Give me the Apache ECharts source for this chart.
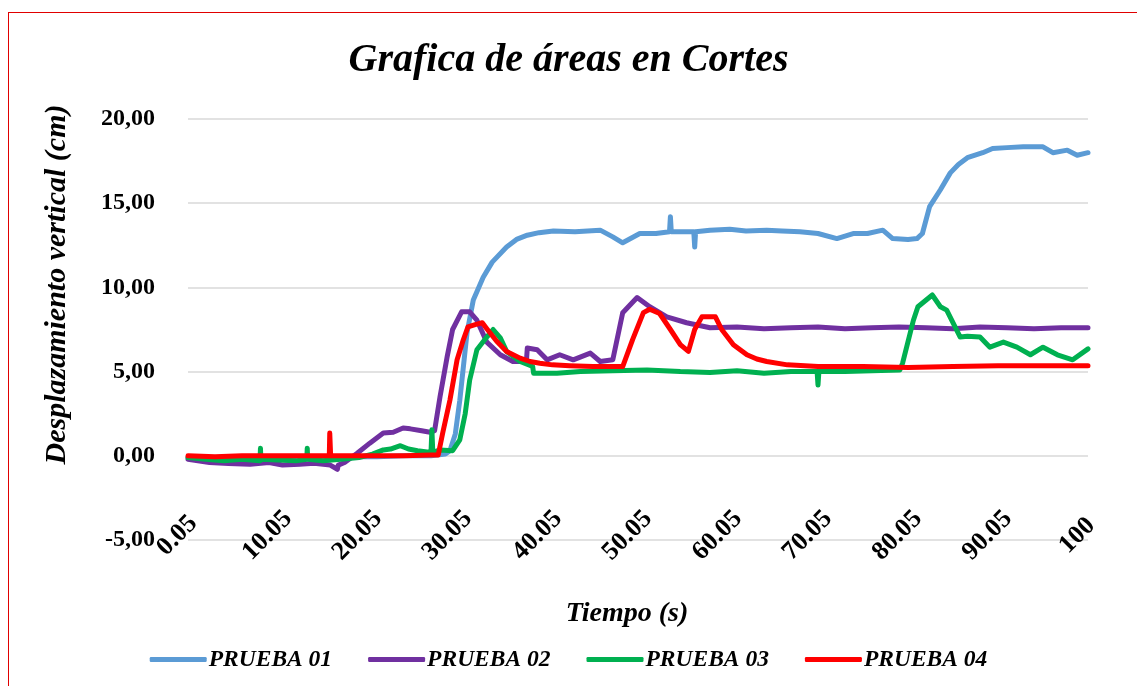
<!DOCTYPE html>
<html>
<head>
<meta charset="utf-8">
<script src="https://cdn.jsdelivr.net/npm/echarts@6/dist/echarts.min.js"></script>
<style>
  html, body { margin: 0; padding: 0; background: #fff; }
  #main { width: 1137px; height: 686px; }
  #frame { position: absolute; left: 8px; top: 12px; width: 1140px; height: 690px; border: 1px solid #e00000; pointer-events: none; }
</style>
</head>
<body>
<div id="main"></div>
<div id="frame"></div>
<script>
// tiempo (s) y desplazamiento (cm)
const seriesNames = ['PRUEBA 01', 'PRUEBA 02', 'PRUEBA 03', 'PRUEBA 04'];
const xTickLabels = ['0.05', '10.05', '20.05', '30.05', '40.05', '50.05', '60.05', '70.05', '80.05', '90.05', '100'];

const t01 = [0, 3, 6, 9, 12, 15, 18, 21, 24, 27, 28.6, 29.1, 29.7, 30.2, 31.0, 31.7, 32.8, 33.8, 35.4, 36.5, 37.7,
  39, 40.6, 43, 45.8, 47.2, 48.3, 50.2, 52, 53.5, 53.6, 53.7, 55, 56.2, 56.3, 56.4, 58, 60.2, 62, 64.3, 66, 68,
  70, 72.1, 73.9, 75.5, 77.2, 78.3, 80, 81, 81.6, 82.4, 83.6, 84.7, 85.6, 86.6, 88.3, 89.4, 91, 92.8, 95, 96.1, 97.7,
  98.8, 100];
const v01 = [-0.1, -0.1, -0.15, -0.1, -0.1, -0.1, -0.05, -0.05, 0, 0, 0.1, 0.3, 1.3, 3.3, 7.3, 9.25, 10.6, 11.5, 12.4, 12.85, 13.1,
  13.25, 13.35, 13.3, 13.4, 13.0, 12.65, 13.2, 13.2, 13.3, 14.2, 13.3, 13.3, 13.3, 12.4, 13.3, 13.4, 13.45, 13.35, 13.4, 13.35, 13.3,
  13.2, 12.9, 13.2, 13.2, 13.4, 12.9, 12.85, 12.9, 13.2, 14.8, 15.8, 16.8, 17.3, 17.7, 18.0, 18.25, 18.3, 18.35, 18.35, 18.0, 18.15,
  17.85, 18.0];

const t02 = [0, 0.2, 2.4, 4.5, 6.9, 9, 10.5, 12.4, 14, 15.8, 16.6, 16.7, 17.4, 18.8, 20.2, 21.7, 22.8, 23.9, 24.7, 25.8,
  26.9, 27.4, 28, 28.8, 29.4, 30.4, 31.3, 32.1, 33.2, 34.7, 36.1, 37.6, 37.7, 38.8, 39.9, 41.3, 42.8, 44.7, 45.8, 47.2,
  48.3, 49.9, 51.3, 53.2, 55.4, 58, 61, 64, 67, 70, 73, 76, 79, 82, 85, 88, 91, 94, 97, 100];
const v02 = [-0.2, -0.25, -0.4, -0.45, -0.5, -0.4, -0.55, -0.5, -0.45, -0.55, -0.8, -0.55, -0.4, 0.15, 0.75, 1.35, 1.4, 1.65, 1.6, 1.5,
  1.4, 1.5, 3.5, 5.9, 7.5, 8.55, 8.55, 8.05, 6.75, 6.0, 5.6, 5.6, 6.4, 6.3, 5.7, 6.0, 5.7, 6.1, 5.6, 5.7,
  8.5, 9.4, 8.85, 8.25, 7.9, 7.6, 7.65, 7.55, 7.6, 7.65, 7.55, 7.6, 7.65, 7.6, 7.55, 7.65, 7.6, 7.55, 7.6, 7.6];

const t03 = [0, 2, 4, 6, 8, 8.05, 8.1, 10, 12, 13.2, 13.25, 13.3, 15, 17, 19, 20.5, 21.7, 22.5, 23.6, 24.5,
  25.5, 27.0, 27.1, 27.2, 28, 29.4, 30.2, 30.8, 31.3, 32.1, 33.2, 33.9, 34.7, 35.4, 36.9, 38.3, 38.4, 41, 43.6, 47.2,
  51, 54.7, 58, 61, 64, 67, 69.9, 70, 70.1, 73, 76, 79.1, 79.4, 80.6, 81.1, 82.7, 83.6, 84.3, 85.8, 86.6,
  88, 89.1, 90.6, 92.1, 93.6, 95, 96.6, 98.3, 100];
const v03 = [-0.1, -0.2, -0.3, -0.2, -0.3, 0.45, -0.2, -0.25, -0.3, -0.2, 0.45, -0.2, -0.3, -0.2, -0.1, 0.1, 0.35, 0.4, 0.6, 0.4,
  0.3, 0.2, 1.55, 0.2, 0.35, 0.3, 0.95, 2.5, 4.5, 6.3, 7.05, 7.5, 7.0, 6.2, 5.6, 5.3, 4.9, 4.9, 5.0, 5.05,
  5.1, 5.0, 4.95, 5.05, 4.9, 5.0, 5.0, 4.2, 5.0, 5.0, 5.05, 5.1, 5.5, 8.05, 8.85, 9.55, 8.85, 8.65, 7.05, 7.1,
  7.05, 6.45, 6.75, 6.45, 6.0, 6.45, 6.0, 5.7, 6.35];

const t04 = [0, 3, 6, 9, 12, 15.7, 15.75, 15.8, 15.85, 18, 21, 24, 27, 27.8, 28.3, 29.1, 29.9, 30.6, 31.1, 32.0,
  32.7, 33.2, 34.3, 35.4, 36.9, 38, 39.1, 40.5, 42.4, 45, 47.2, 48.3, 49.4, 50.6, 51.3, 52.4, 53.6, 54.7, 55.6, 56.3, 57.1, 58.6,
  59.3, 60.6, 62.1, 63.2, 64.3, 66.6, 70, 75, 80, 85, 90, 95, 100];
const v04 = [0, -0.05, 0, 0, 0, 0, 1.35, 1.35, 0, 0, 0, 0, 0.05, 0.05, 1.35, 3.3, 5.7, 6.9, 7.65, 7.8,
  7.9, 7.55, 6.8, 6.2, 5.8, 5.6, 5.5, 5.4, 5.35, 5.3, 5.3, 5.3, 6.9, 8.5, 8.7, 8.45, 7.5, 6.6, 6.2, 7.5, 8.25, 8.25,
  7.5, 6.6, 6.0, 5.75, 5.6, 5.4, 5.3, 5.3, 5.25, 5.3, 5.35, 5.35, 5.35];

const colors = ['#5b9bd5', '#7030a0', '#00b050', '#ff0000'];
const font = 'Liberation Serif';

function pairs(t, v) {
  return t.map((x, i) => [x, v[i]]);
}

const allData = [pairs(t01, v01), pairs(t02, v02), pairs(t03, v03), pairs(t04, v04)];

var myChart = echarts.init(document.getElementById('main'));

var option = {
  animation: false,
  title: {
    text: 'Grafica de áreas en Cortes',
    left: 'center',
    top: 36,
    textStyle: { fontFamily: font, fontSize: 40, fontWeight: 'bold', fontStyle: 'italic', color: '#000' }
  },
  legend: {
    data: seriesNames,
    top: 643,
    left: 'center',
    itemWidth: 57,
    itemHeight: 5,
    itemGap: 36,
    icon: 'roundRect',
    textStyle: { fontFamily: font, fontSize: 23.5, fontWeight: 'bold', fontStyle: 'italic', color: '#000', padding: [0, 0, 0, -3] }
  },
  grid: { left: 188, right: 49, top: 119, bottom: 146 },
  xAxis: {
    type: 'value',
    min: 0,
    max: 100,
    interval: 10,
    name: 'Tiempo (s)',
    nameLocation: 'middle',
    nameGap: 60,
    nameTextStyle: { fontFamily: font, fontSize: 28, fontWeight: 'bold', fontStyle: 'italic', color: '#000', padding: [0, 22, 0, 0] },
    axisLine: { show: false },
    axisTick: { show: false },
    splitLine: { show: false },
    axisLabel: {
      rotate: 45,
      align: 'center',
      verticalAlign: 'middle',
      margin: -15,
      padding: [0, 30, 0, 0],
      fontFamily: font,
      fontSize: 26,
      fontWeight: 'bold',
      color: '#000',
      formatter: v => xTickLabels[Math.round(v / 10)]
    }
  },
  yAxis: {
    type: 'value',
    min: -5,
    max: 20,
    interval: 5,
    name: 'Desplazamiento vertical (cm)',
    nameLocation: 'middle',
    nameGap: 116,
    nameTextStyle: { fontFamily: font, fontSize: 30, fontWeight: 'bold', fontStyle: 'italic', color: '#000', padding: [0, 0, 0, 90] },
    axisLine: { show: false },
    axisTick: { show: false },
    splitLine: { lineStyle: { color: '#d9d9d9', width: 1.5 } },
    axisLabel: {
      margin: 33,
      fontFamily: font,
      fontSize: 24,
      fontWeight: 'bold',
      color: '#000',
      formatter: v => v.toFixed(2).replace('.', ',')
    }
  },
  series: seriesNames.map((name, i) => ({
    name: name,
    type: 'line',
    data: allData[i],
    showSymbol: false,
    symbol: 'none',
    color: colors[i],
    lineStyle: { width: 5, color: colors[i], cap: 'round', join: 'round' }
  }))
};

myChart.setOption(option);
</script>
</body>
</html>
